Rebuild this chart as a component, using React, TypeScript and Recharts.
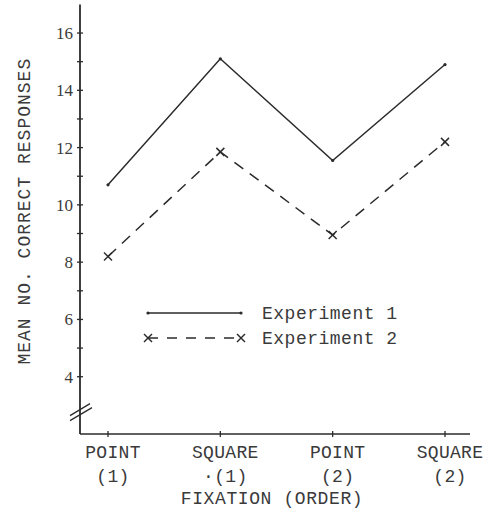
import React from 'react';
import { LineChart, Line, XAxis, YAxis, Customized } from 'recharts';

const categories = ['POINT\n(1)', 'SQUARE\n·(1)', 'POINT\n(2)', 'SQUARE\n(2)'];
const experiment1 = [10.7, 15.1, 11.55, 14.9];
const experiment2 = [8.2, 11.85, 8.95, 12.2];
const seriesNames = ['Experiment 1', 'Experiment 2'];
const yTicks = [4, 5, 6, 7, 8, 9, 10, 11, 12, 13, 14, 15, 16];
const BREAK_VALUE = 2.85;
const yLabel = 'MEAN NO. CORRECT RESPONSES';
const xLabel = 'FIXATION (ORDER)';

const data = categories.map((c, i) => ({ cat: c, e1: experiment1[i], e2: experiment2[i] }));

const INK = '#2b2b2b';
const TEXT = '#3a3a3a';
const FONT = '"Liberation Mono", monospace';
const SERIF = '"Liberation Serif", serif';
const TICK_MARGIN = 8;

const YTick = (props: any) => {
  const { x, y, payload } = props;
  const ax = x + TICK_MARGIN;
  const v = payload.value;
  if (v === BREAK_VALUE) {
    return (
      <g stroke={INK} strokeWidth={1.3}>
        <line x1={ax - 10} y1={y + 6} x2={ax + 10} y2={y - 6} />
        <line x1={ax - 10} y1={y + 11} x2={ax + 12} y2={y - 2} />
      </g>
    );
  }
  return (
    <g>
      <line x1={ax - 3} y1={y} x2={ax + 3} y2={y} stroke={INK} strokeWidth={1.3} />
      {v % 2 === 0 && (
        <text x={ax - 7} y={y + 6} textAnchor="end" fontFamily={SERIF} fontSize={17} fill={TEXT}>
          {v}
        </text>
      )}
    </g>
  );
};

const XTick = (props: any) => {
  const { x, y, payload } = props;
  const ay = y - TICK_MARGIN;
  const lines = String(payload.value).split('\n');
  return (
    <g>
      <line x1={x} y1={ay - 3} x2={x} y2={ay + 3} stroke={INK} strokeWidth={1.3} />
      {lines.map((l, i) => (
        <text key={i} x={x + 5} y={ay + 24 + i * 24} textAnchor="middle" fontFamily={FONT} fontSize={18} letterSpacing={0.3} fill={TEXT}>
          {l}
        </text>
      ))}
    </g>
  );
};

const CrossDot = (props: any) => {
  const { cx, cy } = props;
  if (cx == null || cy == null) return null;
  return (
    <g stroke={INK} strokeWidth={1.5}>
      <line x1={cx - 4} y1={cy - 4} x2={cx + 4} y2={cy + 4} />
      <line x1={cx - 4} y1={cy + 4} x2={cx + 4} y2={cy - 4} />
    </g>
  );
};

const SmallDot = (props: any) => {
  const { cx, cy } = props;
  if (cx == null || cy == null) return null;
  return <circle cx={cx} cy={cy} r={1.6} fill={INK} />;
};

const LegendBlock = () => {
  const x0 = 148;
  const x1 = 241;
  const ys = [313, 338];
  return (
    <g>
      <line x1={x0} y1={ys[0]} x2={x1} y2={ys[0]} stroke={INK} strokeWidth={1.5} />
      <circle cx={x0} cy={ys[0]} r={1.6} fill={INK} />
      <circle cx={x1} cy={ys[0]} r={1.6} fill={INK} />
      <line x1={x0} y1={ys[1]} x2={x1} y2={ys[1]} stroke={INK} strokeWidth={1.5} strokeDasharray="10 9" />
      <CrossDot cx={x0} cy={ys[1]} />
      <CrossDot cx={x1} cy={ys[1]} />
      {seriesNames.map((n, i) => (
        <text key={n} x={262} y={ys[i] + 6} fontFamily={FONT} fontSize={18} letterSpacing={0.5} fill={TEXT}>
          {n}
        </text>
      ))}
    </g>
  );
};

const YLabel = (props: any) => {
  const vb = props.viewBox || {};
  const cx = 25;
  const cy = (vb.y ?? 0) + (vb.height ?? 0) / 2 - 8;
  return (
    <text x={cx} y={cy} transform={`rotate(-90 ${cx} ${cy})`} textAnchor="middle" dominantBaseline="central" fontFamily={FONT} fontSize={18} letterSpacing={1.0} fill={TEXT}>
      {yLabel}
    </text>
  );
};

const XLabel = (props: any) => {
  const vb = props.viewBox || {};
  const cx = (vb.x ?? 0) + (vb.width ?? 0) / 2;
  return (
    <text x={cx - 3} y={504} textAnchor="middle" fontFamily={FONT} fontSize={18} letterSpacing={0.6} fill={TEXT}>
      {xLabel}
    </text>
  );
};

export default function App() {
  return (
    <div style={{ position: 'absolute', left: 0, top: 0, background: '#fff' }}>
      <LineChart width={488} height={508} data={data} margin={{ top: 4.4, right: 18, bottom: 14, left: 10 }}>
        <XAxis
          dataKey="cat"
          type="category"
          padding={{ left: 28, right: 25 }}
          tickSize={0}
          tickMargin={TICK_MARGIN}
          tickLine={false}
          tick={<XTick />}
          height={60}
          axisLine={{ stroke: INK, strokeWidth: 1.5 }}
          interval={0}
          label={<XLabel />}
        />
        <YAxis
          type="number"
          domain={[2, 17]}
          ticks={[BREAK_VALUE, ...yTicks]}
          interval={0}
          width={70}
          tickSize={0}
          tickMargin={TICK_MARGIN}
          tickLine={false}
          tick={<YTick />}
          axisLine={{ stroke: INK, strokeWidth: 1.8 }}
          label={<YLabel />}
        />
        <Line
          dataKey="e1"
          name={seriesNames[0]}
          stroke={INK}
          strokeWidth={1.5}
          dot={<SmallDot />}
          activeDot={false}
          isAnimationActive={false}
        />
        <Line
          dataKey="e2"
          name={seriesNames[1]}
          stroke={INK}
          strokeWidth={1.5}
          strokeDasharray="11 8"
          dot={<CrossDot />}
          activeDot={false}
          isAnimationActive={false}
        />
        <Customized component={<LegendBlock />} />
      </LineChart>
    </div>
  );
}
